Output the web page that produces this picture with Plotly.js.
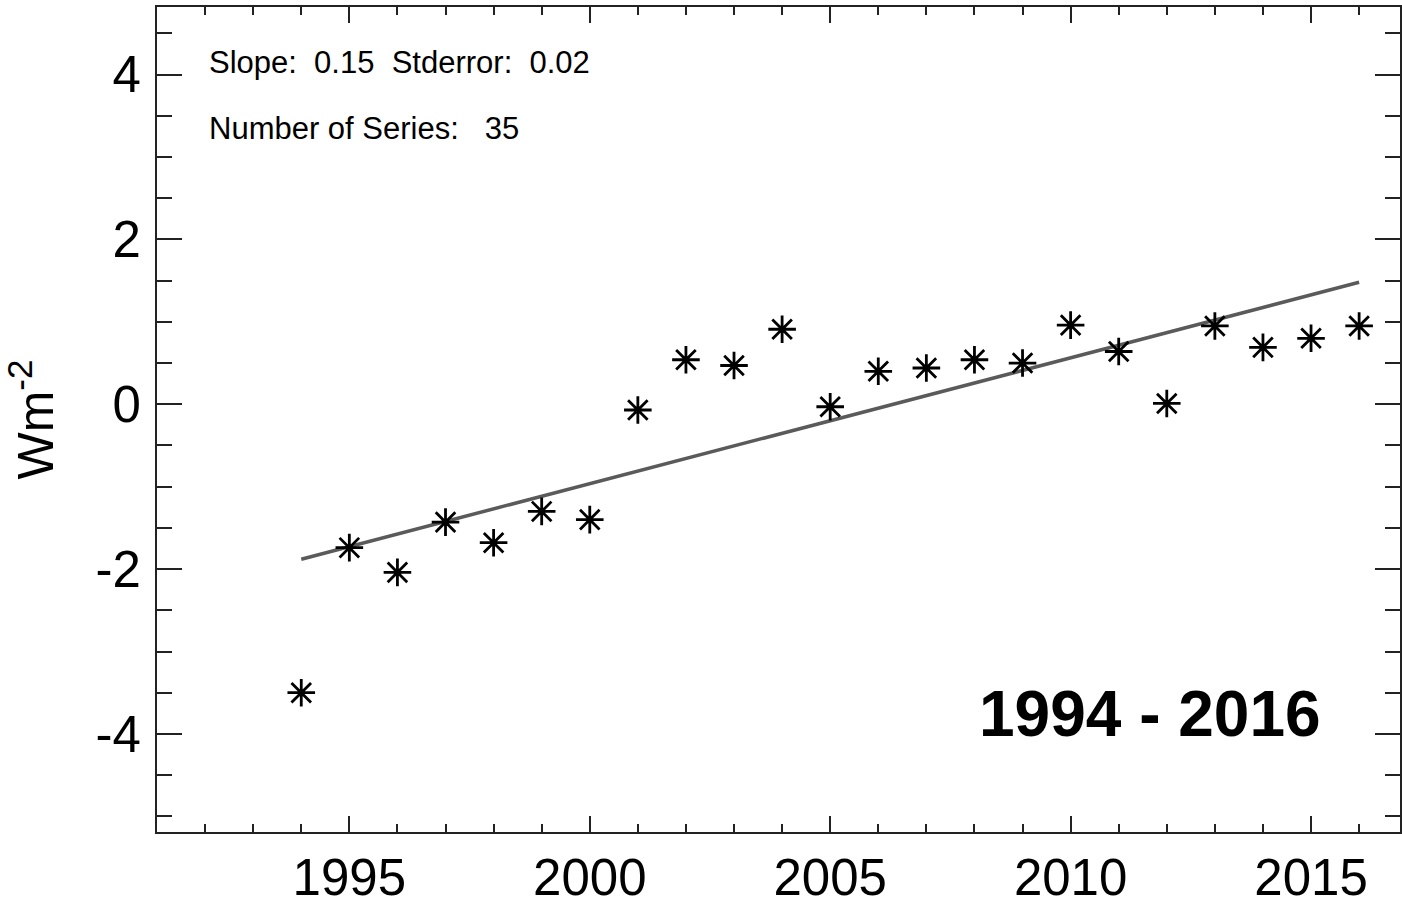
<!DOCTYPE html>
<html>
<head>
<meta charset="utf-8">
<script src="https://cdn.plot.ly/plotly-3.0.1.min.js"></script>
<style>
html,body{margin:0;padding:0;background:#fff;}
#chart{width:1402px;height:904px;}
</style>
</head>
<body>
<div id="chart"></div>
<script>
// Data
const years = [1994, 1995, 1996, 1997, 1998, 1999, 2000, 2001, 2002, 2003, 2004, 2005,
               2006, 2007, 2008, 2009, 2010, 2011, 2012, 2013, 2014, 2015, 2016];
const values = [-3.50, -1.74, -2.04, -1.43, -1.68, -1.30, -1.40, -0.07, 0.54, 0.47, 0.91, -0.03,
                0.40, 0.44, 0.54, 0.50, 0.96, 0.64, 0.01, 0.95, 0.69, 0.80, 0.95];
const trendYears = [1994, 2016];
const trendValues = [-1.88, 1.48];
const xTickVals = [1995, 2000, 2005, 2010, 2015];
const xTickText = ["1995", "2000", "2005", "2010", "2015"];
const yTickVals = [-4, -2, 0, 2, 4];
const yTickText = ["-4", "-2", "0", "2", "4"];
const statsLine1 = "Slope:\u00a0 0.15\u00a0 Stderror:\u00a0 0.02";
const statsLine2 = "Number of Series:\u00a0\u00a0 35";
const periodLabel = "1994 - 2016";
const yTitle = "Wm<sup>-2</sup>";

const font = "Liberation Sans, Arial, Helvetica, sans-serif";

const traces = [
  {
    x: trendYears, y: trendValues, type: 'scatter', mode: 'lines',
    line: {color: '#5a5a5a', width: 3.5}, hoverinfo: 'skip', showlegend: false
  },
  {
    x: years, y: values, type: 'scatter', mode: 'markers',
    marker: {symbol: 'asterisk-open', size: 23, color: '#000', line: {color: '#000', width: 2.8}},
    showlegend: false
  }
];

const layout = {
  width: 1402, height: 904,
  margin: {l: 157, r: 2, t: 7, b: 72, pad: 0},
  paper_bgcolor: '#fff', plot_bgcolor: '#fff',
  font: {family: font, color: '#000'},
  showlegend: false,
  xaxis: {
    range: [1991, 2016.85], tickmode: 'array', tickvals: xTickVals, ticktext: xTickText,
    ticks: 'inside', ticklen: 16, tickwidth: 2, tickcolor: '#222',
    showline: true, linecolor: '#222', linewidth: 2, mirror: 'allticks',
    showgrid: false, zeroline: false,
    tickfont: {family: font, size: 51, color: '#000'},
    ticklabelstandoff: 0,
    minor: {dtick: 1, tick0: 1991, ticks: 'inside', ticklen: 8, tickwidth: 2, tickcolor: '#222', showgrid: false}
  },
  yaxis: {
    range: [-5.19, 4.82], tickmode: 'array', tickvals: yTickVals, ticktext: yTickText,
    ticks: 'inside', ticklen: 25, tickwidth: 2, tickcolor: '#222',
    showline: true, linecolor: '#222', linewidth: 2, mirror: 'allticks',
    showgrid: false, zeroline: false,
    tickfont: {family: font, size: 51, color: '#000'},
    ticklabelstandoff: 4,
    title: {text: yTitle, font: {family: font, size: 50, color: '#000'}, standoff: 30},
    minor: {dtick: 0.5, tick0: 0, ticks: 'inside', ticklen: 15, tickwidth: 2, tickcolor: '#222', showgrid: false}
  },
  annotations: [
    {xref: 'paper', yref: 'paper', x: 50/1243, y: 1 - (63-7)/825, xanchor: 'left', yanchor: 'middle',
     text: statsLine1, showarrow: false, font: {family: font, size: 31, color: '#000'}},
    {xref: 'paper', yref: 'paper', x: 50/1243, y: 1 - (128-7)/825, xanchor: 'left', yanchor: 'middle',
     text: statsLine2, showarrow: false, font: {family: font, size: 31, color: '#000'}},
    {xref: 'paper', yref: 'paper', x: (1150-157)/1243, y: 1 - (714-7)/825, xanchor: 'center', yanchor: 'middle',
     text: '<b>' + periodLabel + '</b>', showarrow: false, font: {family: font, size: 64, color: '#000'}}
  ]
};

Plotly.newPlot('chart', traces, layout, {displayModeBar: false, staticPlot: true});
</script>
</body>
</html>
